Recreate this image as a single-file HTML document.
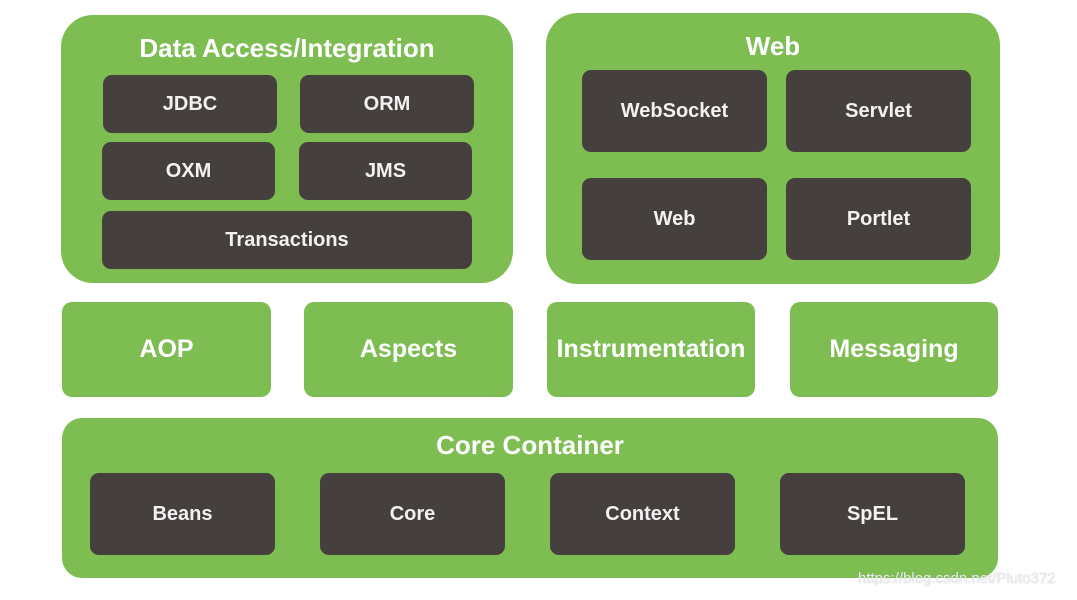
<!DOCTYPE html>
<html><head><style>
body{margin:0;width:1077px;height:600px;background:#fff;position:relative;overflow:hidden;font-family:"Liberation Sans",sans-serif;font-weight:bold}
.g{position:absolute;background:#7dbd51;color:#fff}
.d{position:absolute;background:#45403d;color:#f2f2f2;border-radius:9px;display:flex;align-items:center;justify-content:center;font-size:20px}
.t{position:absolute;left:0;right:0;text-align:center;font-size:26px}
.m{display:flex;align-items:center;justify-content:center;font-size:25px;border-radius:10px}
</style></head><body>
<div class="g" style="left:61px;top:15px;width:452px;height:268px;border-radius:32px"><div class="t" style="top:18px">Data Access/Integration</div></div>
<div class="d" style="left:103px;top:75px;width:174px;height:58px">JDBC</div>
<div class="d" style="left:300px;top:75px;width:174px;height:58px">ORM</div>
<div class="d" style="left:102px;top:142px;width:173px;height:58px">OXM</div>
<div class="d" style="left:299px;top:142px;width:173px;height:58px">JMS</div>
<div class="d" style="left:102px;top:211px;width:370px;height:58px">Transactions</div>

<div class="g" style="left:546px;top:13px;width:454px;height:271px;border-radius:32px"><div class="t" style="top:18px">Web</div></div>
<div class="d" style="left:582px;top:70px;width:185px;height:82px">WebSocket</div>
<div class="d" style="left:786px;top:70px;width:185px;height:82px">Servlet</div>
<div class="d" style="left:582px;top:178px;width:185px;height:82px">Web</div>
<div class="d" style="left:786px;top:178px;width:185px;height:82px">Portlet</div>

<div class="g m" style="left:62px;top:302px;width:209px;height:95px">AOP</div>
<div class="g m" style="left:304px;top:302px;width:209px;height:95px">Aspects</div>
<div class="g m" style="left:547px;top:302px;width:208px;height:95px">Instrumentation</div>
<div class="g m" style="left:790px;top:302px;width:208px;height:95px">Messaging</div>

<div class="g" style="left:62px;top:418px;width:936px;height:160px;border-radius:20px"><div class="t" style="top:12px">Core Container</div></div>
<div class="d" style="left:90px;top:473px;width:185px;height:82px">Beans</div>
<div class="d" style="left:320px;top:473px;width:185px;height:82px">Core</div>
<div class="d" style="left:550px;top:473px;width:185px;height:82px">Context</div>
<div class="d" style="left:780px;top:473px;width:185px;height:82px">SpEL</div>
<div style="position:absolute;left:858px;top:570px;font-size:15px;font-weight:normal;color:rgba(255,255,255,0.75);text-shadow:0 0 1px #aaa">https://blog.csdn.net/Pluto372</div>
</body></html>
